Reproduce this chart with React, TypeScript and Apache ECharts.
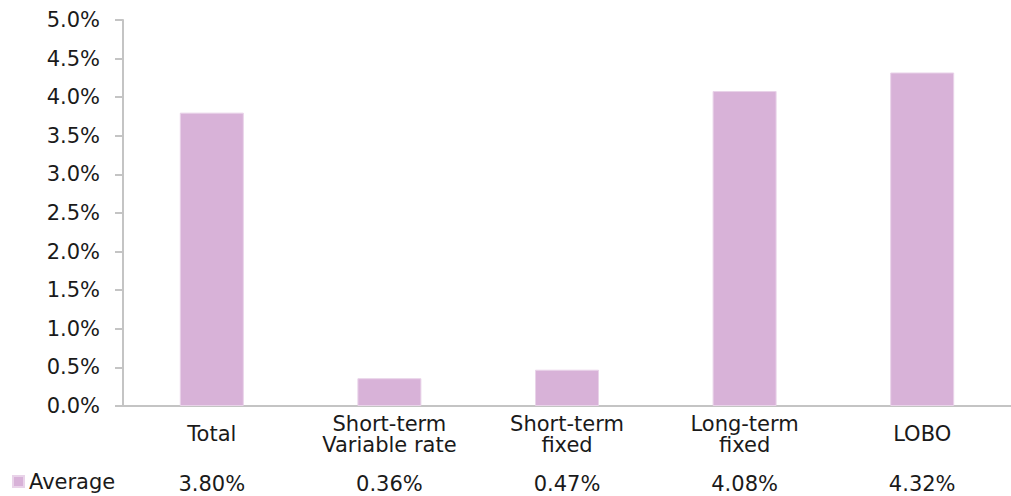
import React, { useEffect, useRef } from "react";
import * as echarts from "echarts";

const categories = [
  "Total",
  "Short-term\nVariable rate",
  "Short-term\nfixed",
  "Long-term\nfixed",
  "LOBO",
];
const seriesName = "Average";
const averageValues = [3.8, 0.36, 0.47, 4.08, 4.32];
const yTicks = { min: 0, max: 5, interval: 0.5 };

const FONT = "'DejaVu Sans', Verdana, sans-serif";
const FS = 21;
const TEXT = "#1a1a1a";
const AXIS = "#c4c4c4";
const BAR = "#d8b2d8";

export default function App() {
  const ref = useRef<HTMLDivElement>(null);
  useEffect(() => {
    if (!ref.current) return;
    const chart = echarts.init(ref.current, undefined, { renderer: "svg" });
    chart.setOption({
      animation: false,
      textStyle: { fontFamily: FONT },
      legend: {
        show: true,
        left: 12,
        top: 471,
        padding: 0,
        icon: "rect",
        itemWidth: 11,
        itemHeight: 11,
        itemGap: 5,
        textStyle: { fontFamily: FONT, fontSize: FS, color: TEXT },
        data: [seriesName],
      },
      grid: { left: 123, top: 20, width: 902, height: 386, containLabel: false },
      xAxis: [
        {
          type: "category",
          data: categories,
          position: "bottom",
          axisLine: { show: true, lineStyle: { color: AXIS, width: 2 } },
          axisTick: { show: false },
          axisLabel: {
            interval: 0,
            margin: 28,
            verticalAlign: "middle",
            fontFamily: FONT,
            fontSize: FS,
            lineHeight: 21,
            color: TEXT,
          },
        },
        {
          type: "category",
          data: averageValues.map((v) => v.toFixed(2) + "%"),
          position: "bottom",
          axisLine: { show: false },
          axisTick: { show: false },
          axisLabel: {
            interval: 0,
            margin: 78,
            verticalAlign: "middle",
            fontFamily: FONT,
            fontSize: FS,
            color: TEXT,
          },
        },
      ],
      yAxis: {
        type: "value",
        min: yTicks.min,
        max: yTicks.max,
        interval: yTicks.interval,
        axisLine: { show: true, lineStyle: { color: AXIS, width: 2 } },
        axisTick: { show: true, length: 8, lineStyle: { color: AXIS, width: 2 } },
        splitLine: { show: false },
        axisLabel: {
          margin: 23,
          fontFamily: FONT,
          fontSize: FS,
          color: TEXT,
          padding: [4, 0, 0, 0],
          formatter: (v: number) => v.toFixed(1) + "%",
        },
      },
      series: [
        {
          name: seriesName,
          type: "bar",
          data: averageValues,
          barWidth: 64,
          itemStyle: { color: BAR, borderColor: "#e9d3e9", borderWidth: 1 },
        },
      ],
    });
    return () => chart.dispose();
  }, []);
  return <div ref={ref} style={{ width: 1011, height: 496, position: "absolute", left: 0, top: 0 }} />;
}
